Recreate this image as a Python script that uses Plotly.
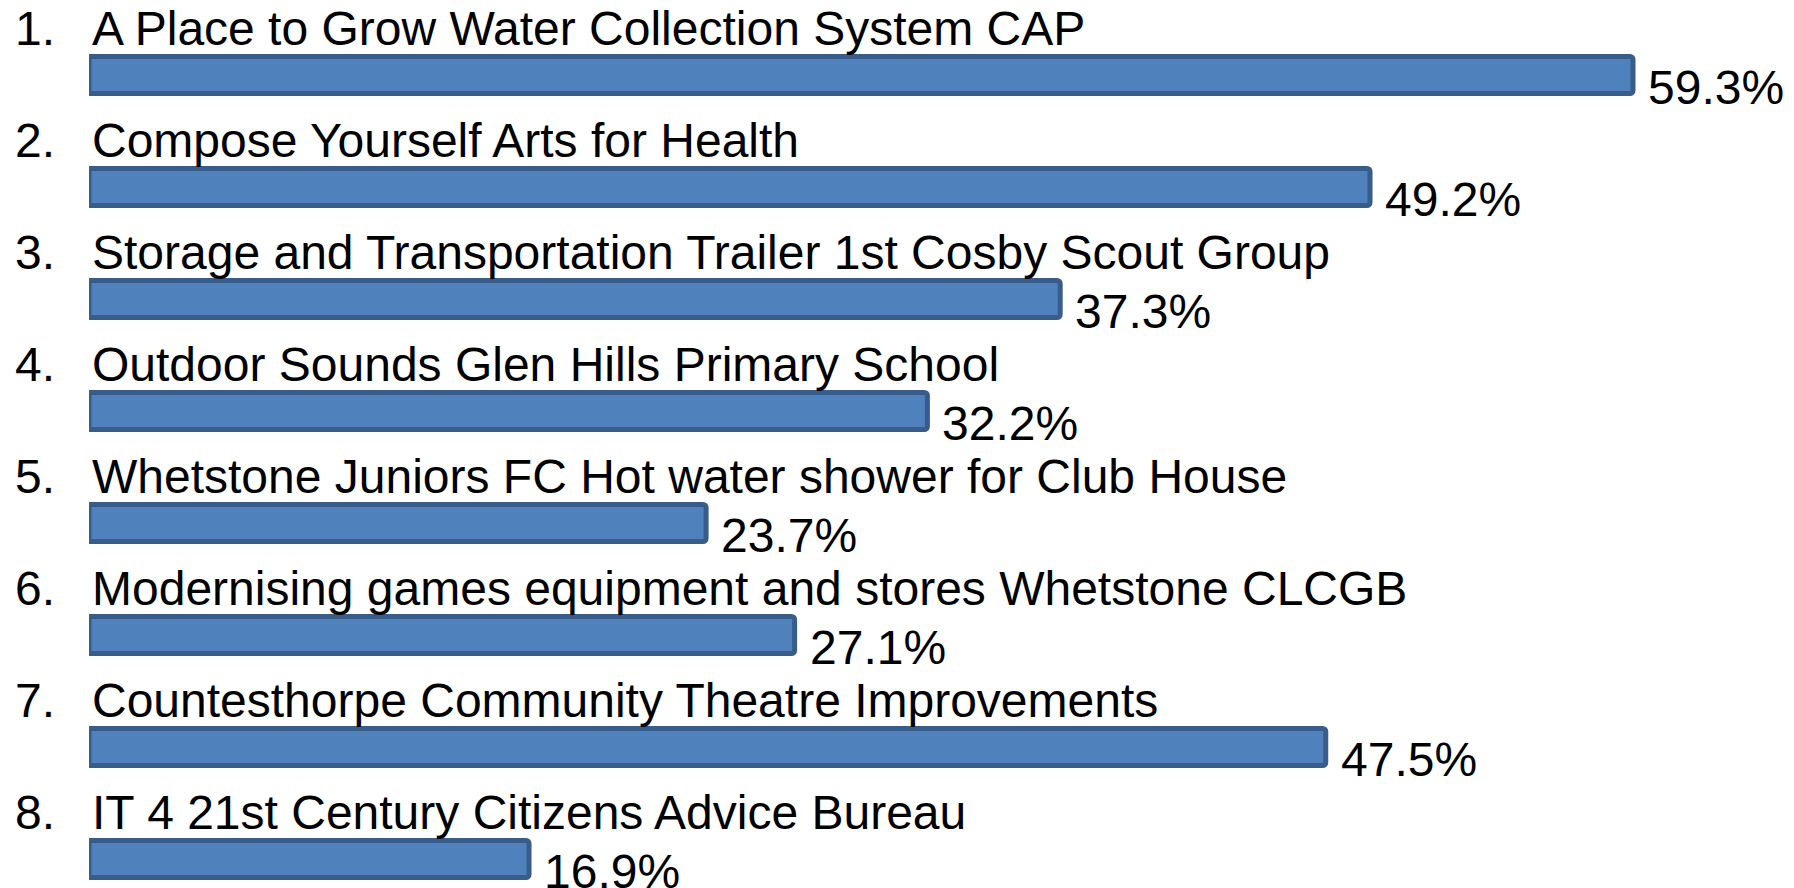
import plotly.graph_objects as go

numbers = ["1.", "2.", "3.", "4.", "5.", "6.", "7.", "8."]
projects = [
    "A Place to Grow Water Collection System CAP",
    "Compose Yourself Arts for Health",
    "Storage and Transportation Trailer 1st Cosby Scout Group",
    "Outdoor Sounds Glen Hills Primary School",
    "Whetstone Juniors FC Hot water shower for Club House",
    "Modernising games equipment and stores Whetstone CLCGB",
    "Countesthorpe Community Theatre Improvements",
    "IT 4 21st Century Citizens Advice Bureau",
]
values = [59.3, 49.2, 37.3, 32.2, 23.7, 27.1, 47.5, 16.9]
value_labels = ["59.3%", "49.2%", "37.3%", "32.2%", "23.7%", "27.1%", "47.5%", "16.9%"]

W, H = 1794, 888
LEFT = 89
PLOT_W = W - LEFT
PX_PER_UNIT = 1544 / 59.3
PITCH = 112
FIRST_CENTER = 75
FONT = "Liberation Sans, Arial, sans-serif"
FS = 48

x_max = PLOT_W / PX_PER_UNIT
y_top = (0 - FIRST_CENTER) / PITCH
y_bot = (H - FIRST_CENTER) / PITCH

fig = go.Figure(go.Bar(
    x=values,
    y=projects,
    orientation="h",
    width=37 / PITCH,
    marker=dict(color="#4F81BD", line=dict(color="#385D8A", width=5), cornerradius=3),
    hoverinfo="skip",
))

annotations = []
for n, p, v, lab in zip(numbers, projects, values, value_labels):
    annotations.append(dict(
        x=(13 - LEFT) / PLOT_W, y=p, xref="paper", yref="y", text=n, showarrow=False,
        xanchor="left", yanchor="middle", yshift=47, font=dict(family=FONT, size=FS, color="black"),
    ))
    annotations.append(dict(
        x=(90 - LEFT) / PX_PER_UNIT, y=p, xref="x", yref="y", text=p, showarrow=False,
        xanchor="left", yanchor="middle", yshift=47, font=dict(family=FONT, size=FS, color="black"),
    ))
    annotations.append(dict(
        x=v, y=p, xref="x", yref="y", text=lab, showarrow=False,
        xanchor="left", yanchor="middle", xshift=13, yshift=-12,
        font=dict(family=FONT, size=FS, color="black"),
    ))

fig.update_layout(
    width=W, height=H,
    margin=dict(l=LEFT, r=0, t=0, b=0),
    paper_bgcolor="white", plot_bgcolor="white",
    showlegend=False,
    xaxis=dict(range=[0, x_max], visible=False, fixedrange=True),
    yaxis=dict(type="category", categoryorder="array", categoryarray=projects,
               range=[y_bot, y_top], visible=False, fixedrange=True),
    annotations=annotations,
)

fig.write_html("out.html", config={"displayModeBar": False})
